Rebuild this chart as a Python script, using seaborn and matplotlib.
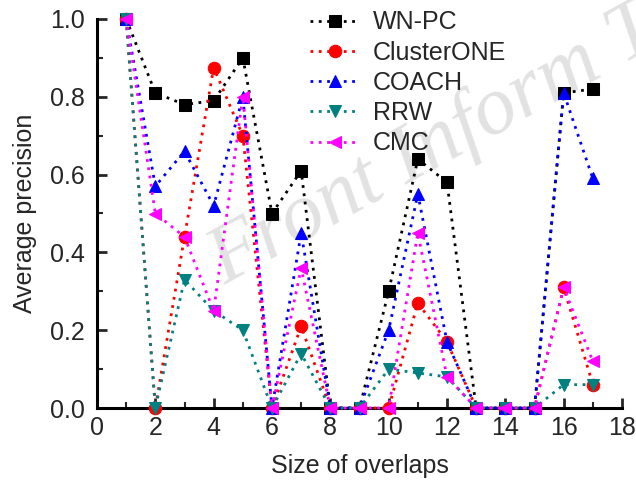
import matplotlib
matplotlib.use("Agg")
import matplotlib.pyplot as plt
import seaborn as sns
import pandas as pd
from matplotlib.ticker import MultipleLocator, FormatStrFormatter

sizes = list(range(1, 18))
wn_pc = [1.0, 0.81, 0.78, 0.79, 0.90, 0.50, 0.61, 0.0, 0.0, 0.30, 0.64, 0.58, 0.0, 0.0, 0.0, 0.81, 0.82]
cluster_one = [1.0, 0.0, 0.44, 0.875, 0.70, 0.0, 0.21, 0.0, 0.0, 0.0, 0.27, 0.17, 0.0, 0.0, 0.0, 0.31, 0.06]
coach = [1.0, 0.57, 0.66, 0.52, 0.80, 0.0, 0.45, 0.0, 0.0, 0.20, 0.55, 0.17, 0.0, 0.0, 0.0, 0.81, 0.59]
rrw = [1.0, 0.0, 0.33, 0.25, 0.20, 0.0, 0.14, 0.0, 0.0, 0.10, 0.09, 0.08, 0.0, 0.0, 0.0, 0.06, 0.06]
cmc = [1.0, 0.50, 0.44, 0.25, 0.80, 0.0, 0.36, 0.0, 0.0, 0.0, 0.45, 0.08, 0.0, 0.0, 0.0, 0.31, 0.12]

series = [
    ("WN-PC", wn_pc, "black", "s"),
    ("ClusterONE", cluster_one, "red", "o"),
    ("COACH", coach, "blue", "^"),
    ("RRW", rrw, "#008080", "v"),
    ("CMC", cmc, "magenta", "<"),
]

sns.set_style("white")
plt.rcParams["font.family"] = ["Liberation Sans", "DejaVu Sans"]

fig = plt.figure(figsize=(6.36, 4.86), dpi=100)
ax = fig.add_axes([97 / 636, 1 - 408 / 486, 525 / 636, 389 / 486])

# watermark behind the data
ax.text(225 / 636, 1 - 285 / 486, "Front Inform T", transform=fig.transFigure,
        fontsize=60, family="Liberation Serif", style="italic", color="#e2e2e2",
        rotation=29, rotation_mode="anchor", ha="left", va="baseline",
        zorder=0, clip_on=False)

for name, vals, color, marker in series:
    df = pd.DataFrame({"size": sizes, "precision": vals})
    sns.lineplot(data=df, x="size", y="precision", ax=ax, color=color,
                 linestyle=(0, (1, 2)), linewidth=2, marker=marker, markersize=9,
                 markeredgecolor=color, label=name, clip_on=False, zorder=3)

ax.set_xlim(0, 18)
ax.set_ylim(0, 1.0)
ax.xaxis.set_major_locator(MultipleLocator(2))
ax.xaxis.set_minor_locator(MultipleLocator(1))
ax.yaxis.set_major_locator(MultipleLocator(0.2))
ax.yaxis.set_minor_locator(MultipleLocator(0.1))
ax.yaxis.set_major_formatter(FormatStrFormatter("%.1f"))
ax.tick_params(which="major", direction="in", length=7, width=2, labelsize=18,
               bottom=True, left=True)
ax.tick_params(which="minor", direction="in", length=4, width=1.5,
               bottom=True, left=True)
ax.tick_params(axis="y", pad=9)
ax.tick_params(axis="x", pad=6)
for side in ["top", "right"]:
    ax.spines[side].set_visible(False)
for side in ["left", "bottom"]:
    ax.spines[side].set_linewidth(2.2)
    ax.spines[side].set_color("black")

ax.set_xlabel("Size of overlaps", fontsize=18, labelpad=10)
ax.set_ylabel("Average precision", fontsize=18, labelpad=9)

ax.legend(loc="upper left", bbox_to_anchor=(0.363, 1.08), frameon=False,
          fontsize=18, handlelength=2.0, labelspacing=0.25, handletextpad=0.5)

plt.savefig("out.png", dpi=100)
